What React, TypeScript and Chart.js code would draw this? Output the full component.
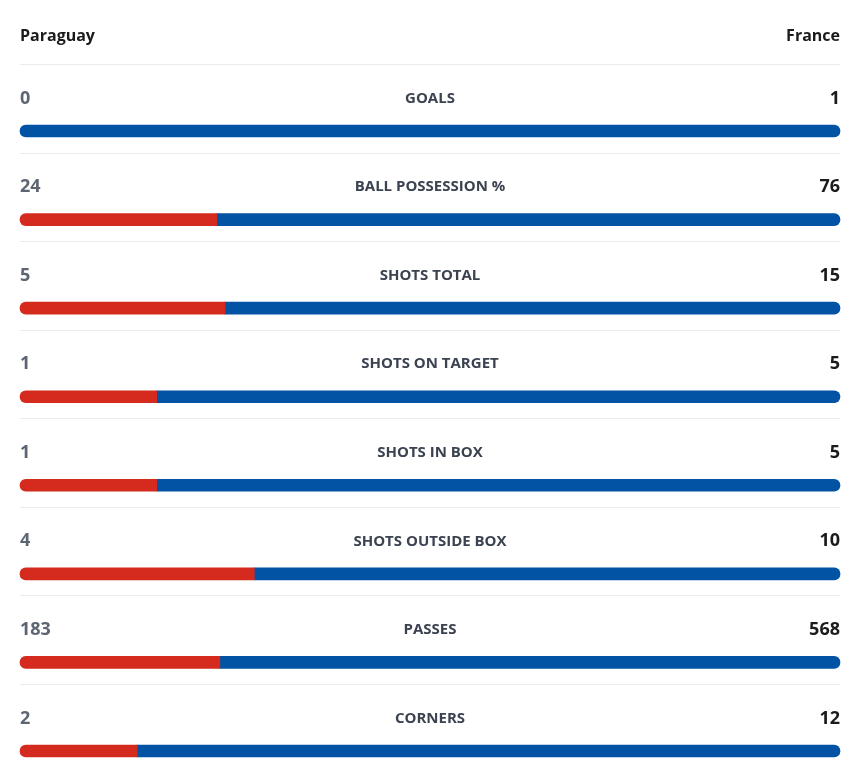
import React, { useEffect, useRef } from "react";
import { Chart, registerables } from "chart.js";

Chart.register(...registerables);

const homeTeam = "Paraguay";
const awayTeam = "France";
const statLabels = [
  "GOALS",
  "BALL POSSESSION %",
  "SHOTS TOTAL",
  "SHOTS ON TARGET",
  "SHOTS IN BOX",
  "SHOTS OUTSIDE BOX",
  "PASSES",
  "CORNERS",
];
const homeValues = [0, 24, 5, 1, 1, 4, 183, 2];
const awayValues = [1, 76, 15, 5, 5, 10, 568, 12];

const HOME_COLOR = "#d52b1e";
const AWAY_COLOR = "#0353a4";
const FONT = "'Open Sans', 'Noto Sans', sans-serif";

// each team's share of the row total
const homeShare = homeValues.map((v, i) => v / (v + awayValues[i] || 1));
const awayShare = awayValues.map((v, i) => v / (homeValues[i] + v || 1));

const statText = {
  id: "statText",
  beforeDatasetsDraw(chart: any) {
    const { ctx, chartArea, scales } = chart;
    const y = scales.y;
    const left = chartArea.left;
    const right = chartArea.right;
    ctx.save();
    ctx.strokeStyle = "#ebebeb";
    ctx.lineWidth = 1;
    statLabels.forEach((_, i) => {
      const yy = Math.round(y.getPixelForValue(i) - 67) + 0.5;
      ctx.beginPath();
      ctx.moveTo(left, yy);
      ctx.lineTo(right, yy);
      ctx.stroke();
    });
    ctx.restore();
  },
  afterDraw(chart: any) {
    const { ctx, chartArea, scales } = chart;
    const y = scales.y;
    const left = chartArea.left;
    const right = chartArea.right;
    const mid = (left + right) / 2;
    ctx.save();
    ctx.textBaseline = "middle";

    const headerY = y.getPixelForValue(0) - 95;
    ctx.font = `bold 16px ${FONT}`;
    ctx.fillStyle = "#1b1b1b";
    ctx.textAlign = "left";
    ctx.fillText(homeTeam, left, headerY);
    ctx.textAlign = "right";
    ctx.fillText(awayTeam, right, headerY);

    statLabels.forEach((label, i) => {
      const ty = y.getPixelForValue(i) - 32.5;
      ctx.font = `bold 18px ${FONT}`;
      ctx.fillStyle = "#5d6472";
      ctx.textAlign = "left";
      ctx.fillText(String(homeValues[i]), left, ty);
      ctx.fillStyle = "#1b1b1b";
      ctx.textAlign = "right";
      ctx.fillText(String(awayValues[i]), right, ty);
      ctx.font = `bold 15px ${FONT}`;
      ctx.fillStyle = "#3b4250";
      ctx.textAlign = "center";
      ctx.fillText(label, mid, ty);
    });
    ctx.restore();
  },
};

export default function App() {
  const canvasRef = useRef<HTMLCanvasElement>(null);

  useEffect(() => {
    if (!canvasRef.current) return;
    const r = 6;
    const chart = new Chart(canvasRef.current, {
      type: "bar",
      data: {
        labels: statLabels,
        datasets: [
          {
            label: homeTeam,
            data: homeShare,
            backgroundColor: (c: any) =>
              homeShare[c.dataIndex] === 0 ? "rgba(0,0,0,0)" : HOME_COLOR,
            barThickness: 12,
            borderSkipped: false,
            clip: false,
            borderRadius: (c: any) =>
              homeShare[c.dataIndex] === 0
                ? 0
                : awayShare[c.dataIndex] === 0
                ? { topLeft: r, bottomLeft: r, topRight: r, bottomRight: r }
                : { topLeft: r, bottomLeft: r, topRight: 0, bottomRight: 0 },
          },
          {
            label: awayTeam,
            data: awayShare,
            backgroundColor: AWAY_COLOR,
            barThickness: 12,
            borderSkipped: false,
            clip: false,
            borderRadius: (c: any) =>
              homeShare[c.dataIndex] === 0
                ? { topLeft: r, bottomLeft: r, topRight: r, bottomRight: r }
                : { topLeft: 0, bottomLeft: 0, topRight: r, bottomRight: r },
          },
        ],
      },
      options: {
        indexAxis: "y",
        responsive: false,
        animation: false,
        layout: { padding: { left: 20, right: 15, top: 131, bottom: 9 } },
        plugins: {
          legend: { display: false },
          tooltip: { enabled: false },
        },
        scales: {
          x: { stacked: true, min: 0, max: 1, display: false },
          y: { stacked: true, offset: false, display: false },
        },
      },
      plugins: [statText],
    } as any);
    return () => chart.destroy();
  }, []);

  return (
    <div style={{ position: "absolute", left: 0, top: 0, width: 855, height: 760, background: "#fff" }}>
      <canvas ref={canvasRef} width={855} height={760} />
    </div>
  );
}
